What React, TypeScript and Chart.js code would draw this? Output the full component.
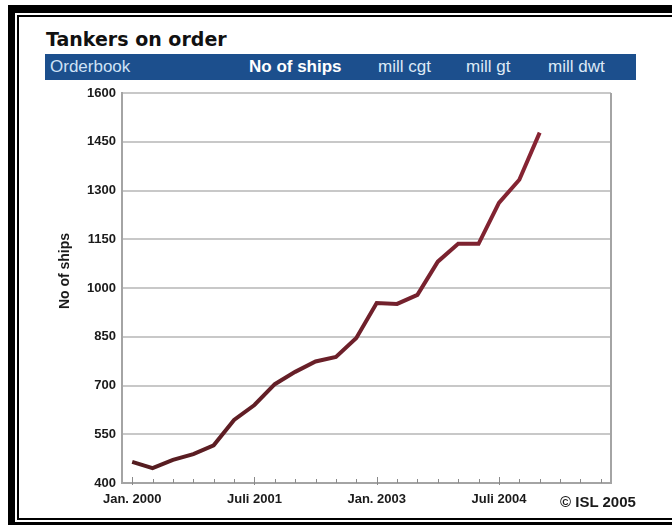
import React, { useEffect, useRef } from 'react';
import { Chart, registerables } from 'chart.js';

Chart.register(...registerables);

// ---- data ----
const categories = [
  'Jan 2000', 'Apr 2000', 'Jul 2000', 'Oct 2000',
  'Jan 2001', 'Apr 2001', 'Jul 2001', 'Oct 2001',
  'Jan 2002', 'Apr 2002', 'Jul 2002', 'Oct 2002',
  'Jan 2003', 'Apr 2003', 'Jul 2003', 'Oct 2003',
  'Jan 2004', 'Apr 2004', 'Jul 2004', 'Oct 2004',
  'Jan 2005', 'Apr 2005', 'Jul 2005', 'Oct 2005',
];
const shipsOnOrder = [
  465, 446, 471, 489,
  516, 594, 640, 704,
  742, 774, 788, 846,
  954, 951, 979, 1081,
  1136, 1136, 1262, 1333,
  1478,
];
const tickLabelIndices = [0, 6, 12, 18];
const tickLabelTexts = ['Jan. 2000', 'Juli 2001', 'Jan. 2003', 'Juli 2004'];
const yMin = 400;
const yMax = 1600;
const yStep = 150;
const barFirst = 'Orderbook';
const barItems = ['No of ships', 'mill cgt', 'mill gt', 'mill dwt'];
const titleText = 'Tankers on order';
const yTitle = 'No of ships';
const copyright = '\u00A9 ISL 2005';

const SANS = "'Liberation Sans', Arial, sans-serif";

const barItemLeft = [249, 378, 466, 548];

const frameTicksPlugin = {
  id: 'frameTicks',
  afterDatasetsDraw(chart: any) {
    const { ctx, chartArea } = chart;
    const xs = chart.scales.x;
    ctx.save();
    ctx.strokeStyle = '#a4a4a4';
    ctx.lineWidth = 2;
    ctx.beginPath();
    ctx.moveTo(chartArea.right, chartArea.top);
    ctx.lineTo(chartArea.right, chartArea.bottom);
    ctx.stroke();
    ctx.strokeStyle = '#8a8a8a';
    ctx.lineWidth = 1;
    for (let i = 0; i < categories.length; i++) {
      const x = Math.round(xs.getPixelForValue(i)) + 0.5;
      const major = tickLabelIndices.indexOf(i) >= 0;
      ctx.beginPath();
      ctx.moveTo(x, chartArea.bottom + (major ? 2 : 0));
      ctx.lineTo(x, chartArea.bottom - (major ? 6 : 4));
      ctx.stroke();
    }
    ctx.restore();
  },
};

function TankerChart() {
  const ref = useRef<HTMLCanvasElement | null>(null);
  useEffect(() => {
    if (!ref.current) return;
    const chart = new Chart(ref.current, {
      type: 'line',
      data: {
        labels: categories,
        datasets: [
          {
            label: yTitle,
            data: shipsOnOrder,
            borderColor: (c: any) => {
              const area = c.chart.chartArea;
              if (!area) return '#7a2030';
              const g = c.chart.ctx.createLinearGradient(area.left, 0, area.right, 0);
              g.addColorStop(0, '#521c1f');
              g.addColorStop(0.5, '#6f202b');
              g.addColorStop(1, '#922637');
              return g;
            },
            borderWidth: 4,
            pointRadius: 0,
            tension: 0,
            fill: false,
          },
        ],
      },
      options: {
        responsive: false,
        animation: false,
        devicePixelRatio: 1,
        layout: { padding: { left: 0, right: 29, top: 9, bottom: 0 } },
        plugins: { legend: { display: false }, tooltip: { enabled: false } },
        scales: {
          x: {
            type: 'category',
            offset: true,
            grid: { display: false, drawTicks: false },
            border: { display: true, color: '#a4a4a4', width: 2 },
            ticks: {
              autoSkip: false,
              maxRotation: 0,
              minRotation: 0,
              padding: 9,
              color: '#1a1a1a',
              font: { family: SANS, size: 13, weight: 'bold' },
              callback: (_v: any, i: number) => {
                const k = tickLabelIndices.indexOf(i);
                return k >= 0 ? tickLabelTexts[k] : '';
              },
            },
            afterFit: (s: any) => {
              s.height = 31;
              s.paddingLeft = 0;
              s.paddingRight = 0;
            },
          },
          y: {
            min: yMin,
            max: yMax,
            grid: { color: '#c8c8c8', lineWidth: 2, drawTicks: false },
            border: { display: true, color: '#a4a4a4', width: 2 },
            ticks: {
              stepSize: yStep,
              padding: 6,
              color: '#1a1a1a',
              font: { family: SANS, size: 13, weight: 'bold' },
              callback: (v: any) => String(v),
            },
            afterFit: (s: any) => {
              s.width = 102;
              s.paddingTop = 0;
              s.paddingBottom = 0;
            },
          },
        },
      },
      plugins: [frameTicksPlugin],
    });
    return () => chart.destroy();
  }, []);
  return (
    <canvas
      ref={ref}
      width={620}
      height={430}
      style={{ position: 'absolute', left: 20, top: 84, width: 620, height: 430 }}
    />
  );
}

export default function App() {
  return (
    <div
      style={{
        position: 'absolute',
        left: 0,
        top: 0,
        width: 672,
        height: 528,
        background: '#ffffff',
        overflow: 'hidden',
      }}
    >
      <div
        style={{
          position: 'absolute',
          left: 8,
          top: 5,
          width: 720,
          height: 520,
          boxSizing: 'border-box',
          borderStyle: 'solid',
          borderColor: '#000',
          borderWidth: '8px 0 3px 7px',
        }}
      />
      <div
        style={{
          position: 'absolute',
          left: 17,
          top: 15,
          width: 720,
          height: 505,
          boxSizing: 'border-box',
          borderStyle: 'solid',
          borderColor: '#000',
          borderWidth: '2px 0 2px 2px',
        }}
      />
      <div
        style={{
          position: 'absolute',
          left: 46,
          top: 30,
          fontFamily: "'DejaVu Sans', sans-serif",
          fontWeight: 'bold',
          fontSize: 19,
          lineHeight: '19px',
          color: '#111',
          whiteSpace: 'nowrap',
        }}
      >
        {titleText}
      </div>
      <div
        style={{
          position: 'absolute',
          left: 45,
          top: 54,
          width: 591,
          height: 26,
          background: '#1c4f8d',
          fontFamily: SANS,
          fontSize: 17,
          lineHeight: '26px',
          whiteSpace: 'nowrap',
        }}
      >
        <span style={{ position: 'absolute', left: 5, top: 0, color: '#cfe2f6' }}>{barFirst}</span>
        {barItems.map((t, i) => (
          <span
            key={t}
            style={{
              position: 'absolute',
              left: barItemLeft[i] - 45,
              top: 0,
              color: i === 0 ? '#ffffff' : '#dde9f6',
              fontWeight: i === 0 ? 'bold' : 'normal',
            }}
          >
            {t}
          </span>
        ))}
      </div>
      <TankerChart />
      <div
        style={{
          position: 'absolute',
          left: 64,
          top: 271,
          width: 0,
          height: 0,
        }}
      >
        <div
          style={{
            position: 'absolute',
            left: -60,
            top: -8,
            width: 120,
            height: 16,
            textAlign: 'center',
            transform: 'rotate(-90deg)',
            fontFamily: SANS,
            fontWeight: 'bold',
            fontSize: 14,
            lineHeight: '16px',
            color: '#1a1a1a',
            whiteSpace: 'nowrap',
          }}
        >
          {yTitle}
        </div>
      </div>
      <div
        style={{
          position: 'absolute',
          left: 560,
          top: 494,
          fontFamily: SANS,
          fontWeight: 'bold',
          fontSize: 15,
          lineHeight: '15px',
          color: '#1a1a1a',
          whiteSpace: 'nowrap',
        }}
      >
        {copyright}
      </div>
    </div>
  );
}
